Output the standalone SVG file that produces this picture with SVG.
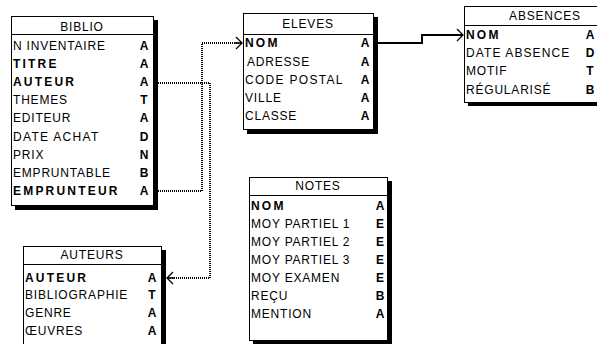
<svg xmlns="http://www.w3.org/2000/svg" width="597" height="344" viewBox="0 0 597 344">
<style>
text{font-family:"Liberation Sans",Arial,sans-serif;font-size:12px;letter-spacing:0.8px;fill:#000}
.b{font-weight:bold;letter-spacing:2.2px}
.t{font-weight:bold;text-anchor:middle;letter-spacing:0}
.h{text-anchor:middle}
.box{fill:#fff;stroke:#000;stroke-width:1}
.sh{fill:#000}
.ln{stroke:#000;stroke-width:1}
.dot{fill:none;stroke:#000;stroke-width:2;stroke-dasharray:1 1}
.sol{fill:none;stroke:#000;stroke-width:2}
.cf{fill:none;stroke:#000;stroke-width:1.3}
</style>
<rect width="597" height="344" fill="#fff"/>
<g id="connectors">
<path class="dot" d="M158,191 H202 V43 H242"/>
<path class="cf" d="M236,37 L242,43 L236,49 M235,43 H242"/>
<path class="dot" d="M158,83 H210 V278 H167"/>
<path class="cf" d="M173,272 L167,278 L173,284 M174,278 H167"/>
<path class="sol" d="M378,43 H422 V35 H463"/>
<path class="cf" d="M457,29 L463,35 L457,41"/>
</g>
<g id="biblio">
<rect class="sh" x="15" y="20" width="143" height="190"/>
<rect class="box" x="11.5" y="16.5" width="142" height="189"/>
<line class="ln" x1="11.5" y1="34.5" x2="153.5" y2="34.5"/>
<text class="h" x="82" y="31">BIBLIO</text>
<text x="13" y="50">N INVENTAIRE</text><text class="t" x="144" y="50">A</text>
<text class="b" x="13" y="68">TITRE</text><text class="t" x="144" y="68">A</text>
<text class="b" x="13" y="86">AUTEUR</text><text class="t" x="144" y="86">A</text>
<text x="13" y="104">THEMES</text><text class="t" x="144" y="104">T</text>
<text x="13" y="122">EDITEUR</text><text class="t" x="144" y="122">A</text>
<text x="13" y="141" style="letter-spacing:1.3px">DATE ACHAT</text><text class="t" x="144" y="141">D</text>
<text x="13" y="159">PRIX</text><text class="t" x="144" y="159">N</text>
<text x="13" y="177">EMPRUNTABLE</text><text class="t" x="144" y="177">B</text>
<text class="b" x="13" y="195">EMPRUNTEUR</text><text class="t" x="144" y="195">A</text>
</g>
<g id="eleves">
<rect class="sh" x="247" y="17" width="131" height="117"/>
<rect class="box" x="243.5" y="13.5" width="130" height="116"/>
<line class="ln" x1="243.5" y1="34.5" x2="373.5" y2="34.5"/>
<text class="h" x="308" y="28">ELEVES</text>
<text class="b" x="245" y="47">NOM</text><text class="t" x="365" y="47">A</text>
<text x="247" y="66">ADRESSE</text><text class="t" x="365" y="66">A</text>
<text x="245" y="84" style="letter-spacing:1.3px">CODE POSTAL</text><text class="t" x="365" y="84">A</text>
<text x="245" y="102">VILLE</text><text class="t" x="365" y="102">A</text>
<text x="245" y="120">CLASSE</text><text class="t" x="365" y="120">A</text>
</g>
<g id="absences">
<rect class="sh" x="468" y="10" width="140" height="96"/>
<rect class="box" x="464.5" y="6.5" width="140" height="96"/>
<line class="ln" x1="464.5" y1="25.5" x2="604" y2="25.5"/>
<text class="h" x="545" y="20">ABSENCES</text>
<text class="b" x="466" y="39">NOM</text><text class="t" x="590" y="39">A</text>
<text x="466" y="57" style="letter-spacing:1.1px">DATE ABSENCE</text><text class="t" x="590" y="57">D</text>
<text x="466" y="75">MOTIF</text><text class="t" x="590" y="75">T</text>
<text x="466" y="94">RÉGULARISÉ</text><text class="t" x="590" y="94">B</text>
</g>
<g id="notes">
<rect class="sh" x="253" y="181" width="139" height="170"/>
<rect class="box" x="249.5" y="177.5" width="138" height="163"/>
<line class="ln" x1="249.5" y1="195.5" x2="387.5" y2="195.5"/>
<text class="h" x="318" y="190">NOTES</text>
<text class="b" x="251" y="210">NOM</text><text class="t" x="380" y="210">A</text>
<text x="251" y="228">MOY PARTIEL 1</text><text class="t" x="380" y="228">E</text>
<text x="251" y="246">MOY PARTIEL 2</text><text class="t" x="380" y="246">E</text>
<text x="251" y="264">MOY PARTIEL 3</text><text class="t" x="380" y="264">E</text>
<text x="251" y="282">MOY EXAMEN</text><text class="t" x="380" y="282">E</text>
<text x="251" y="300">REÇU</text><text class="t" x="380" y="300">B</text>
<text x="251" y="318">MENTION</text><text class="t" x="380" y="318">A</text>
</g>
<g id="auteurs">
<rect class="sh" x="27" y="250" width="139" height="110"/>
<rect class="box" x="23.5" y="246.5" width="138" height="110"/>
<line class="ln" x1="23.5" y1="264.5" x2="161.5" y2="264.5"/>
<text class="h" x="92" y="259">AUTEURS</text>
<text class="b" x="25" y="282">AUTEUR</text><text class="t" x="152" y="282">A</text>
<text x="25" y="299">BIBLIOGRAPHIE</text><text class="t" x="152" y="299">T</text>
<text x="25" y="317">GENRE</text><text class="t" x="152" y="317">A</text>
<text x="25" y="335">ŒUVRES</text><text class="t" x="152" y="335">A</text>
</g>
</svg>
